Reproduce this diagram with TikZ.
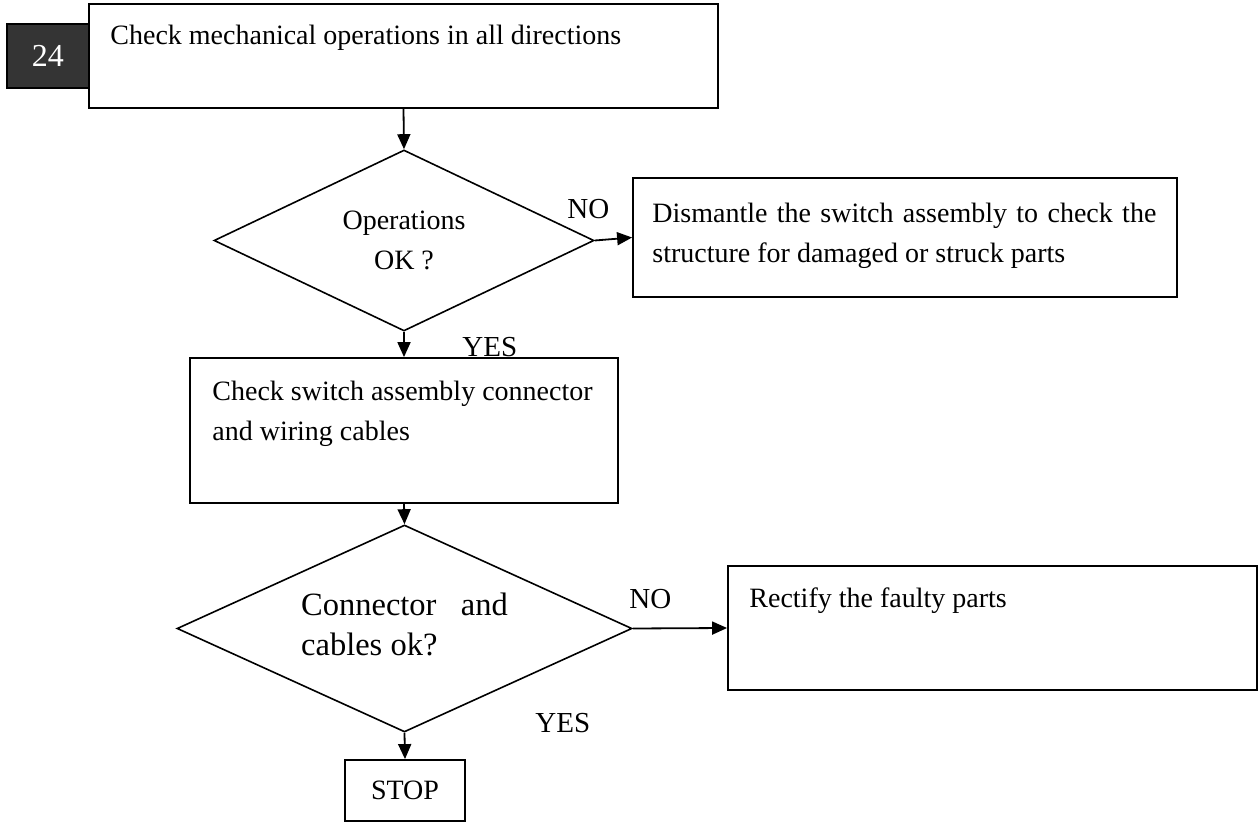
\documentclass[tikz,border=0pt]{standalone}
\usepackage{fontspec}
\setmainfont{Liberation Serif}
\usetikzlibrary{arrows.meta,shapes.geometric,fit}
\definecolor{tagfill}{RGB}{52,52,52}
\tikzset{
  stepbox/.style={draw=black,line width=.9pt,inner sep=0pt},
  tagbox/.style={stepbox,fill=tagfill,text=white,font=\fontsize{16}{19}\selectfont},
  decision/.style={diamond,draw=black,line width=.8pt,aspect=2,inner sep=0pt,align=center},
  steptxt/.style={inner sep=0pt,font=\fontsize{14}{20}\selectfont},
  answer/.style={inner sep=0pt,anchor=base west,font=\fontsize{14.5}{17}\selectfont},
  flow/.style={-{Triangle[length=7.5pt,width=6.5pt]},line width=.9pt},
}

\begin{document}
\begin{tikzpicture}[x=.5pt,y=-.5pt,font=\fontsize{14}{20}\selectfont]
  \useasboundingbox (0,0) rectangle (1259,823);
  % boxes
  \node[stepbox,fit={(89,4) (718,108)}]     (check)     {};
  \node[tagbox,minimum width=41pt,minimum height=32pt] (tag) at (48,56) {24};
  \node[stepbox,fit={(633,178) (1177,297)}] (dismantle) {};
  \node[stepbox,fit={(190,358) (618,503)}]  (wiring)    {};
  \node[stepbox,fit={(728,566) (1257,690)}] (rectify)   {};
  \node[stepbox,minimum width=60pt,minimum height=30.5pt] (stop) at (405,790.5) {STOP};
  % decisions
  \node[decision,minimum width=190pt,minimum height=90.5pt] (ops) at (404,240.5)
    {Operations\\OK ?};
  \node[decision,align=left,minimum width=227.5pt,minimum height=103.5pt,
        font=\fontsize{16.25}{20}\selectfont] (cables) at (404.5,628.5)
    {Connector\enspace{} and\\cables ok?\rule[-4.7pt]{0pt}{4.7pt}};
  % texts in the boxes
  \node[steptxt,anchor=base west] (checktxt) at (110,45)
    {Check mechanical operations in all directions};
  \node[steptxt,anchor=north west,align=justify,text width=252pt] (dismantletxt) at (652,203)
    {Dismantle the switch assembly to check the structure for damaged or struck parts};
  \node[steptxt,anchor=north west,align=left] (wiringtxt) at (212,381)
    {Check switch assembly connector\\and wiring cables};
  \node[steptxt,anchor=base west] (rectifytxt) at (749,608) {Rectify the faulty parts};
  % answers
  \node[answer] (no1)  at (567,219) {NO};
  \node[answer] (yes1) at (462,357) {YES};
  \node[answer] (no2)  at (629,609) {NO};
  \node[answer] (yes2) at (535,732) {YES};
  % connectors
  \foreach \a/\b in {check/ops,ops/wiring,wiring/cables,cables/stop}
    {\draw[flow] (\a.south) -- (\b.north);}
  \draw[flow] (ops.east) -- (dismantle.west);
  \draw[flow] (cables.east) -- (rectify.west);
\end{tikzpicture}
\end{document}
